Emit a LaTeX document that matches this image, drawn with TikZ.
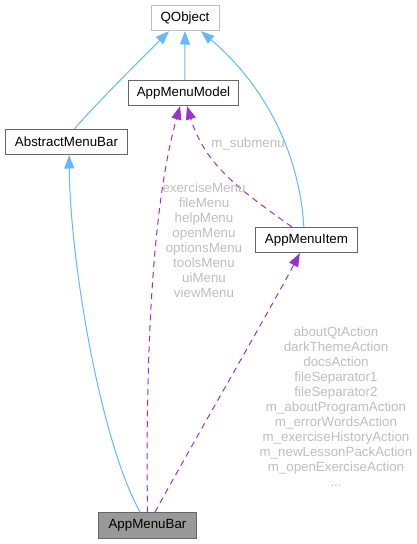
\documentclass[tikz,border=0pt]{standalone}
\usepackage{fontspec}
\setmainfont{Liberation Sans}
\usetikzlibrary{arrows.meta}
\definecolor{inherit}{HTML}{63B8FF}
\definecolor{usage}{HTML}{9A32CD}
\definecolor{labelgray}{HTML}{BEBEBE}

\begin{document}
\begin{tikzpicture}[x=0.75pt, y=-0.75pt,
	every node/.style={font=\fontsize{10}{11.25}\selectfont},
	cls/.style={draw=black!60, fill=white, line width=0.75pt, minimum height=19pt, inner xsep=0pt},
	inh/.style={inherit, line width=0.75pt, -{Triangle[length=10pt, width=7.5pt]}},
	use/.style={usage, line width=0.75pt, dash pattern=on 4.5pt off 3.5pt, -{Triangle[length=10pt, width=7.5pt]}},
	lbl/.style={text=labelgray, align=center, inner sep=0pt}]
	\useasboundingbox (0,0) rectangle (417,544);
	% classes
	\node[cls, draw=black!25, minimum width=51pt] (qobject) at (185,18) {QObject};
	\node[cls, minimum width=82pt] (model) at (183.5,93) {AppMenuModel};
	\node[cls, minimum width=92pt] (abstractbar) at (66.5,142) {AbstractMenuBar};
	\node[cls, minimum width=77pt] (item) at (306.5,240) {AppMenuItem};
	\node[cls, fill=black!40, minimum width=73pt] (bar) at (147.5,525.5) {AppMenuBar};
	% inheritance
	\draw[inh] ([xshift=1pt]model.north) -- (qobject.south);
	\draw[inh] ([xshift=6pt]abstractbar.north) .. controls (95,105) and (140,60) .. ([xshift=-12pt]qobject.south);
	\draw[inh] ([xshift=-2pt]item.north) .. controls (300,160) and (270,90) .. ([xshift=12pt]qobject.south);
	\draw[inh] ([xshift=-5.5pt]bar.north) .. controls (100,440) and (70,260) .. ([xshift=2pt]abstractbar.south);
	% usage
	\draw[use] (bar.north) .. controls (146,400) and (148,220) .. ([xshift=-2.6pt]model.south);
	\draw[use] ([xshift=-11pt]item.north) .. controls (240,190) and (205,165) .. ([xshift=2.6pt]model.south);
	\draw[use] ([xshift=5.5pt]bar.north) .. controls (200,430) and (270,310) .. ([xshift=-5pt]item.south);
	% labels
	\node[lbl] (submenulbl) at (248,144) {m\_submenu};
	\node[lbl] (menulbl) at (204,240.5) {exerciseMenu\\fileMenu\\helpMenu\\openMenu\\optionsMenu\\toolsMenu\\uiMenu\\viewMenu};
	\node[lbl] (actionlbl) at (336,407) {aboutQtAction\\darkThemeAction\\docsAction\\fileSeparator1\\fileSeparator2\\m\_aboutProgramAction\\m\_errorWordsAction\\m\_exerciseHistoryAction\\m\_newLessonPackAction\\m\_openExerciseAction\\...};
\end{tikzpicture}
\end{document}
